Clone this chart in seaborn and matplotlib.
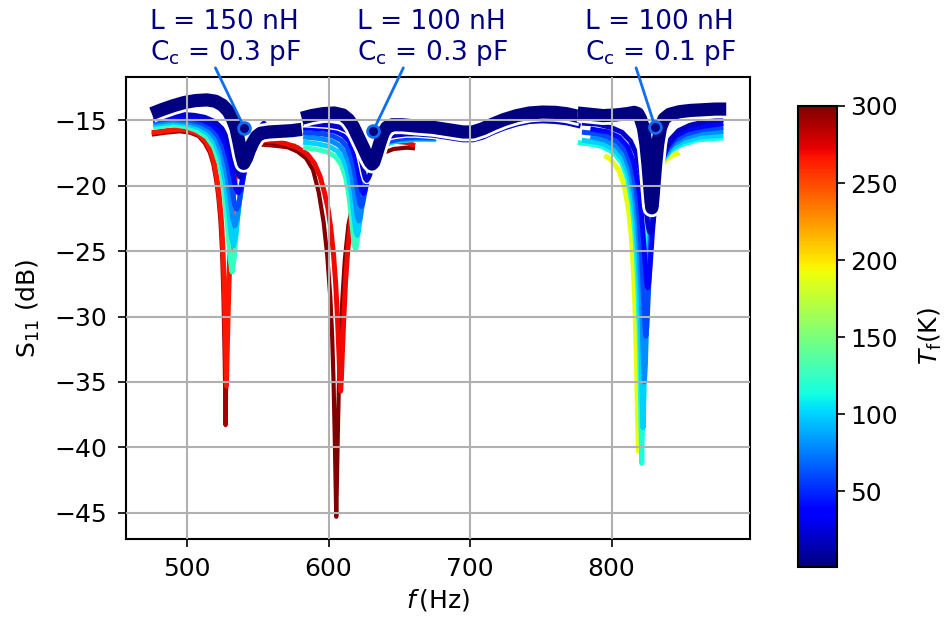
import numpy as np
import pandas as pd
import matplotlib
matplotlib.use("Agg")
import matplotlib.pyplot as plt
import matplotlib.patheffects as pe
from matplotlib.colors import Normalize
import seaborn as sns

sns.set_style("white")
plt.rcParams["font.family"] = ["DejaVu Sans"]
plt.rcParams["mathtext.fontset"] = "dejavusans"
for key in ["axes.edgecolor", "text.color", "axes.labelcolor", "xtick.color", "ytick.color"]:
    plt.rcParams[key] = "black"

# ---------------------------------------------------------------------------
# Resonator 1: L = 150 nH, Cc = 0.3 pF  (curves ordered hot -> cold)
# ---------------------------------------------------------------------------
r1_temps = [290, 265, 125, 100, 80, 60, 40, 20]
r1_freqs = [
    [475, 485, 495, 502, 508, 512.5, 516, 518.5, 520.5, 522, 523.5, 524.7, 525.7, 526.6, 527.2, 527.8,
     528.8, 530, 531.5, 533.3, 535.6, 538.8, 543.3, 549.5, 557, 566, 577],
    [475, 485, 495, 502, 508, 513, 516.5, 519, 521, 522.5, 524, 525.2, 526.3, 527.2, 527.8, 528.5,
     529.5, 530.7, 532.2, 534, 536.3, 539.5, 544, 550, 558, 567, 577],
    [476, 490, 499.3, 506.8, 513.8, 518.8, 522.8, 525.8, 528.3, 530.3, 531.8, 533.3, 535.3, 537.8,
     540.8, 544.8, 549.8, 556],
    [476, 490, 500.3, 507.8, 514.8, 519.8, 523.8, 526.8, 529.3, 531.3, 532.8, 534.3, 536.3, 538.8,
     541.8, 545.8, 550.8, 556],
    [476, 490, 501.3, 508.8, 515.8, 520.8, 524.8, 527.8, 530.3, 532.3, 533.8, 535.3, 537.3, 539.8,
     542.8, 546.8, 551.8, 556],
    [476, 490, 502.5, 510, 517, 522, 526, 529, 531.5, 533.5, 535, 536.5, 538.5, 541, 544, 548, 553, 556],
    [476, 490, 503.7, 511.2, 518.2, 523.2, 527.2, 530.2, 532.7, 534.7, 536.2, 537.7, 539.7, 542.2,
     545.2, 549.2, 554.2],
    [476, 490, 505, 512.5, 519.5, 524.5, 528.5, 531.5, 534, 536, 537.5, 539, 541, 543.5, 546.5, 550.5, 555.5],
]
r1_s11 = [
    [-16.1, -15.95, -15.85, -15.95, -16.2, -16.75, -17.45, -18.35, -19.55, -20.8, -22.6, -25.0, -28.6,
     -33.5, -38.3, -33.5, -28.6, -25.0, -21.7, -19.55, -18.35, -17.55, -17.05, -16.85, -16.9, -17.0, -17.15],
    [-15.95, -15.8, -15.7, -15.8, -16.05, -16.6, -17.3, -18.2, -19.4, -20.6, -22.3, -24.5, -27.8, -32.0,
     -35.3, -32.0, -27.8, -24.5, -21.5, -19.4, -18.2, -17.4, -16.9, -16.7, -16.75, -16.85, -17.0],
    [-15.55, -15.35, -15.5, -15.79, -16.27, -17.04, -18.32, -20.18, -22.81, -25.54, -26.6, -25.54,
     -22.81, -20.18, -18.32, -17.04, -16.27, -15.8],
    [-15.35, -15.15, -15.3, -15.57, -16.02, -16.75, -17.94, -19.62, -21.85, -23.89, -24.6, -23.89,
     -21.85, -19.62, -17.94, -16.75, -16.02, -15.62],
    [-15.2, -15.0, -15.15, -15.39, -15.82, -16.5, -17.6, -19.1, -20.98, -22.54, -23.05, -22.54,
     -20.98, -19.1, -17.6, -16.5, -15.82, -15.5],
    [-15.05, -14.85, -15.0, -15.21, -15.61, -16.24, -17.26, -18.59, -20.18, -21.42, -21.8, -21.42,
     -20.18, -18.59, -17.26, -16.24, -15.61, -15.4],
    [-14.9, -14.7, -14.85, -15.02, -15.39, -15.97, -16.87, -18.02, -19.33, -20.28, -20.55, -20.28,
     -19.33, -18.02, -16.87, -15.97, -15.39],
    [-14.7, -14.5, -14.63, -14.78, -15.11, -15.62, -16.41, -17.39, -18.43, -19.15, -19.35, -19.15,
     -18.43, -17.39, -16.41, -15.62, -15.11],
]

# ---------------------------------------------------------------------------
# Resonator 2: L = 100 nH, Cc = 0.3 pF
# ---------------------------------------------------------------------------
r2_temps = [300, 270, 125, 100, 80, 60, 40, 20]
r2_freqs = [
    [553, 562, 570, 578, 584, 589, 593, 596.5, 599, 601.2, 602.5, 603.5, 604.4, 605.0, 605.4, 605.8,
     606.4, 607.3, 608.5, 609.8, 611.5, 614, 617.7, 622, 628, 636, 646, 655, 661],
    [553, 562, 570, 578, 585, 590, 594, 597, 599.5, 601.5, 603.5, 605, 606.3, 607.3, 608, 608.5, 609,
     609.7, 610.7, 612, 613.5, 615.5, 618, 621, 625, 631, 638, 646, 655, 661],
    [582, 591, 599, 605, 609, 612, 614, 615.5, 617, 618, 619, 620, 621, 622.5, 624, 626, 629, 633,
     639, 647, 662, 676],
    [582, 592.2, 600.2, 606.2, 610.2, 613.2, 615.2, 616.7, 618.2, 619.2, 620.2, 621.2, 622.2, 623.7,
     625.2, 627.2, 630.2, 634.2, 640.2, 648.2, 662, 676],
    [582, 593.5, 601.5, 607.5, 611.5, 614.5, 616.5, 618, 619.5, 620.5, 621.5, 622.5, 623.5, 625,
     626.5, 628.5, 631.5, 635.5, 641.5, 649.5, 662, 676],
    [582, 595, 603, 609, 613, 616, 618, 619.5, 621, 622, 623, 624, 625, 626.5, 628, 630, 633, 637,
     643, 651, 662, 676],
    [582, 596.5, 604.5, 610.5, 614.5, 617.5, 619.5, 621, 622.5, 623.5, 624.5, 625.5, 626.5, 628,
     629.5, 631.5, 634.5, 638.5, 644.5, 652.5, 662, 676],
    [582, 599, 607, 613, 617, 620, 622, 623.5, 625, 626, 627, 628, 629, 630.5, 632, 634, 637, 641,
     647, 655, 662, 674, 686, 695, 702, 709, 716, 724, 733, 742, 751, 760, 768, 774, 778],
]
r2_s11 = [
    [-16.7, -16.8, -17.0, -17.4, -17.9, -18.8, -20.5, -22.8, -25.3, -28.5, -31.5, -35.0, -39.5, -43.0,
     -45.3, -43.0, -39.5, -35.0, -31.5, -28.5, -25.6, -23.0, -21.1, -19.6, -18.4, -17.6, -17.2, -17.1, -17.15],
    [-16.55, -16.6, -16.8, -17.1, -17.6, -18.3, -19.3, -20.5, -21.7, -23.2, -25.3, -27.5, -30.2, -32.8,
     -34.8, -35.7, -34.8, -32.8, -30.2, -27.3, -25.0, -22.8, -20.9, -19.5, -18.4, -17.5, -16.95, -16.6,
     -16.7, -16.95],
    [-17.08, -17.22, -17.42, -17.8, -18.4, -19.36, -20.52, -21.83, -23.47, -24.48, -24.9, -24.45,
     -23.35, -21.7, -20.35, -19.1, -18.0, -17.3, -16.85, -16.6, -16.45, -16.5],
    [-16.68, -16.81, -17.0, -17.37, -17.95, -18.85, -19.94, -21.13, -22.6, -23.45, -23.8, -23.44,
     -22.58, -21.05, -19.85, -18.75, -17.8, -17.2, -16.8, -16.6, -16.45, -16.45],
    [-16.28, -16.4, -16.58, -16.93, -17.48, -18.33, -19.33, -20.41, -21.69, -22.41, -22.7, -22.42,
     -21.7, -20.44, -19.38, -18.4, -17.55, -17.0, -16.66, -16.48, -16.38, -16.4],
    [-15.93, -16.04, -16.21, -16.54, -17.05, -17.84, -18.74, -19.69, -20.78, -21.37, -21.6, -21.4,
     -20.85, -19.95, -19.05, -18.2, -17.45, -16.95, -16.6, -16.4, -16.3, -16.35],
    [-15.58, -15.68, -15.84, -16.15, -16.62, -17.34, -18.16, -19.0, -19.92, -20.41, -20.6, -20.45,
     -20.0, -19.2, -18.4, -17.6, -16.95, -16.55, -16.3, -16.2, -16.15, -16.2],
    [-15.25, -15.37, -15.51, -15.79, -16.22, -16.87, -17.58, -18.29, -19.06, -19.45, -19.6, -19.45,
     -19.2, -18.6, -17.9, -17.2, -16.6, -16.3, -16.15, -16.05, -16.05, -16.15, -16.35, -16.5, -16.5,
     -16.3, -15.95, -15.6, -15.3, -15.1, -15.05, -15.1, -15.2, -15.35, -15.45],
]

# ---------------------------------------------------------------------------
# Resonator 3: L = 100 nH, Cc = 0.1 pF
# ---------------------------------------------------------------------------
r3_temps = [190, 115, 100, 80, 60, 40, 20]
r3_freqs = [
    [795, 798.9, 804.9, 808.9, 811.9, 813.9, 815.4, 816.4, 817.4, 818.2, 818.9, 819.6, 820.4, 821.4,
     822.4, 823.9, 825.9, 828.9, 832.9, 838.9, 843, 848],
    [776, 787, 793.3, 801.3, 807.3, 811.3, 814.3, 816.3, 817.8, 818.8, 819.8, 820.6, 821.3, 822.0,
     822.8, 823.8, 824.8, 826.3, 828.3, 831.3, 835.3, 841.3, 849.3, 861, 879],
    [779, 790, 794.2, 802.2, 808.2, 812.2, 815.2, 817.2, 818.7, 819.7, 820.7, 821.5, 822.2, 822.9,
     823.7, 824.7, 825.7, 827.2, 829.2, 832.2, 836.2, 842.2, 850.2, 862, 879],
    [785, 795.2, 803.2, 809.2, 813.2, 816.2, 818.2, 819.7, 820.7, 821.7, 822.5, 823.2, 823.9, 824.7,
     825.7, 826.7, 828.2, 830.2, 833.2, 837.2, 843.2, 851.2, 863, 879],
    [779, 790, 796.2, 804.2, 810.2, 814.2, 817.2, 819.2, 820.7, 821.7, 822.7, 823.5, 824.2, 824.9,
     825.7, 826.7, 827.7, 829.2, 831.2, 834.2, 838.2, 844.2, 852.2, 864, 879],
    [785, 797.5, 805.5, 811.5, 815.5, 818.5, 820.5, 822, 823, 824, 824.8, 825.5, 826.2, 827, 828, 829,
     830.5, 832.5, 835.5, 839.5, 845.5, 853.5, 865, 879],
    [779, 790, 799.3, 807.3, 813.3, 817.3, 820.3, 822.3, 823.8, 824.8, 825.8, 826.6, 827.3, 828.0,
     828.8, 829.8, 830.8, 832.3, 834.3, 837.3, 841.3, 847.3, 855.3, 866, 879],
]
r3_s11 = [
    [-17.69, -17.96, -18.78, -19.99, -21.79, -23.91, -26.46, -28.99, -32.75, -37.2, -40.3, -37.2,
     -32.75, -28.99, -26.46, -23.91, -21.79, -19.99, -18.78, -17.96, -17.69, -17.49],
    [-16.71, -16.85, -17.02, -17.47, -18.28, -19.49, -21.3, -23.43, -26.0, -28.57, -32.47, -37.34,
     -41.2, -37.33, -32.46, -28.56, -25.98, -23.4, -21.26, -19.44, -18.22, -17.39, -16.88, -16.5, -16.35],
    [-16.53, -16.7, -16.82, -17.26, -18.08, -19.28, -21.08, -23.19, -25.71, -28.21, -31.84, -35.93,
     -38.5, -35.93, -31.83, -28.2, -25.7, -23.17, -21.05, -19.24, -18.02, -17.18, -16.66, -16.3, -16.15],
    [-16.26, -16.51, -16.96, -17.76, -18.96, -20.72, -22.78, -25.2, -27.51, -30.64, -33.59, -35.0,
     -33.59, -30.63, -27.5, -25.19, -22.76, -20.69, -18.92, -17.7, -16.87, -16.36, -16.0, -15.85],
    [-15.91, -16.04, -16.21, -16.64, -17.43, -18.6, -20.3, -22.26, -24.48, -26.48, -28.91, -30.78,
     -31.5, -30.78, -28.9, -26.47, -24.46, -22.24, -20.28, -18.57, -17.38, -16.57, -16.07, -15.72, -15.55],
    [-15.67, -15.89, -16.31, -17.06, -18.17, -19.75, -21.49, -23.35, -24.87, -26.47, -27.47, -27.8,
     -27.47, -26.46, -24.86, -23.33, -21.46, -19.71, -18.12, -17.0, -16.2, -15.74, -15.47, -15.25],
    [-15.22, -15.3, -15.55, -15.92, -16.59, -17.54, -18.83, -20.15, -21.39, -22.28, -23.06, -23.48,
     -23.6, -23.48, -23.05, -22.25, -21.35, -20.1, -18.79, -17.5, -16.5, -15.8, -15.39, -15.12, -14.95],
]

# ---------------------------------------------------------------------------
# Base temperature (2 K) sweeps of the three resonators
# ---------------------------------------------------------------------------
base_temp = 2
base_freqs = [
    [475, 482, 490, 498, 506, 514, 520, 525, 529, 532, 534.5, 536.5, 538.5, 540, 542, 544, 546.5, 549,
     552, 558, 566, 574, 581],
    [581, 588, 596, 604, 610, 614, 617.5, 621, 624.5, 627.5, 629.5, 630.7, 632, 633.8, 636, 638.5, 641,
     645, 652, 662, 674, 686, 695, 702, 709, 716, 724, 733, 742, 751, 760, 768, 774, 778],
    [776, 785, 794, 803, 811, 816, 818.5, 820.5, 822.5, 824.2, 825.7, 826.9, 827.8, 828.4, 829, 829.9,
     831.1, 832.6, 834.5, 837, 841, 848, 856, 865, 873, 881],
]
base_s11 = [
    [-14.5, -14.2, -13.9, -13.65, -13.5, -13.45, -13.55, -13.85, -14.3, -14.9, -15.6, -16.6, -17.7,
     -18.3, -17.9, -17.3, -16.7, -16.25, -16.0, -15.9, -15.85, -15.8, -15.7],
    [-14.85, -14.65, -14.5, -14.45, -14.6, -14.95, -15.5, -16.3, -17.1, -17.8, -18.2, -18.35, -18.2,
     -17.6, -16.8, -16.0, -15.55, -15.35, -15.35, -15.45, -15.55, -15.75, -15.9, -15.9, -15.65, -15.3,
     -14.95, -14.65, -14.45, -14.38, -14.4, -14.5, -14.65, -14.75],
    [-14.45, -14.55, -14.65, -14.6, -14.5, -14.4, -14.5, -14.9, -15.6, -16.8, -18.4, -20.0, -21.2,
     -21.7, -21.2, -20.0, -18.4, -16.8, -15.6, -14.9, -14.55, -14.35, -14.25, -14.2, -14.15, -14.15],
]

# Resonator labels and the marked points on the 2 K curves
res_L = ["150", "100", "100"]
res_Cc = ["0.3", "0.3", "0.1"]
mark_f = [540.5, 631.6, 830.7]
mark_s11 = [-15.6, -15.8, -15.5]

# ---------------------------------------------------------------------------
cmap = plt.get_cmap("jet")
norm = Normalize(vmin=1, vmax=300)

fig = plt.figure(figsize=(9.44, 6.23), dpi=100)
ax = fig.add_axes([0.133, 0.1348, 0.6615, 0.7416])


def draw_sweep(freqs, s11, temp, lw, halo=None, z=2.0):
    df = pd.DataFrame({"f": freqs, "S11": s11})
    sns.lineplot(data=df, x="f", y="S11", color=cmap(norm(temp)), linewidth=lw,
                 estimator=None, sort=False, ax=ax, zorder=z)
    line = ax.lines[-1]
    line.set_solid_capstyle("butt")
    if halo is not None:
        line.set_path_effects([pe.Stroke(linewidth=halo, foreground="white"), pe.Normal()])


sets = [(r1_temps, r1_freqs, r1_s11, False),
        (r2_temps, r2_freqs, r2_s11, True),
        (r3_temps, r3_freqs, r3_s11, False)]
for temps, freqs, s11, outline_cold in sets:
    for T, f, s in zip(temps, freqs, s11):
        lw = 3.0 if T >= 285 else 3.6
        halo = 5.6 if (outline_cold and T == 20) else None
        draw_sweep(f, s, T, lw, halo=halo)

for f, s in zip(base_freqs, base_s11):
    draw_sweep(f, s, base_temp, 9.5, halo=13.5, z=2.1)

# Resonator annotations
text_left = [474, 620, 781]
line_start = [(520, -11.0), (652.8, -11.0), (817.3, -11.0)]
for i in range(3):
    ax.text(text_left[i], -8.75, f"L = {res_L[i]} nH\nC$_\\mathrm{{c}}$ = {res_Cc[i]} pF",
            ha="left", va="center", color="#000080", fontsize=19, linespacing=1.12,
            clip_on=False)
    ax.annotate("", xy=(mark_f[i], mark_s11[i]), xytext=line_start[i],
                arrowprops=dict(arrowstyle="-", color="#0f6ef0", lw=2.0,
                                shrinkA=0, shrinkB=0),
                annotation_clip=False, zorder=4)
ax.plot(mark_f, mark_s11, "o", ms=8.5, mfc="#000080", mec="#0f6ef0", mew=2.0,
        ls="none", zorder=5)

ax.set_xlim(456.5, 897.8)
ax.set_ylim(-47.0, -11.7)
ax.set_xticks([500, 600, 700, 800])
ax.set_yticks([-45, -40, -35, -30, -25, -20, -15])
ax.set_axisbelow(False)
ax.grid(True, color="#b0b0b0", linewidth=1.5)
ax.tick_params(axis="both", labelsize=18, length=6, width=1.2, pad=7, direction="out",
               bottom=True, left=True)
for sp in ax.spines.values():
    sp.set_linewidth(1.5)
    sp.set_color("black")
ax.set_xlabel(r"$f\,$(Hz)", fontsize=18, labelpad=4)
ax.set_ylabel(r"$\mathrm{S}_{11}$ (dB)", fontsize=18, labelpad=9)

# Temperature colour bar
cax = fig.add_axes([0.845, 0.0899, 0.0413, 0.740])
sm = plt.cm.ScalarMappable(norm=norm, cmap=cmap)
cb = fig.colorbar(sm, cax=cax, ticks=[50, 100, 150, 200, 250, 300])
cb.outline.set_linewidth(1.5)
cb.ax.tick_params(labelsize=18, length=6, width=1.2, right=True)
cb.set_label(r"$T_\mathrm{f}$(K)", fontsize=18, labelpad=14)

fig.savefig("out.png", dpi=100)
